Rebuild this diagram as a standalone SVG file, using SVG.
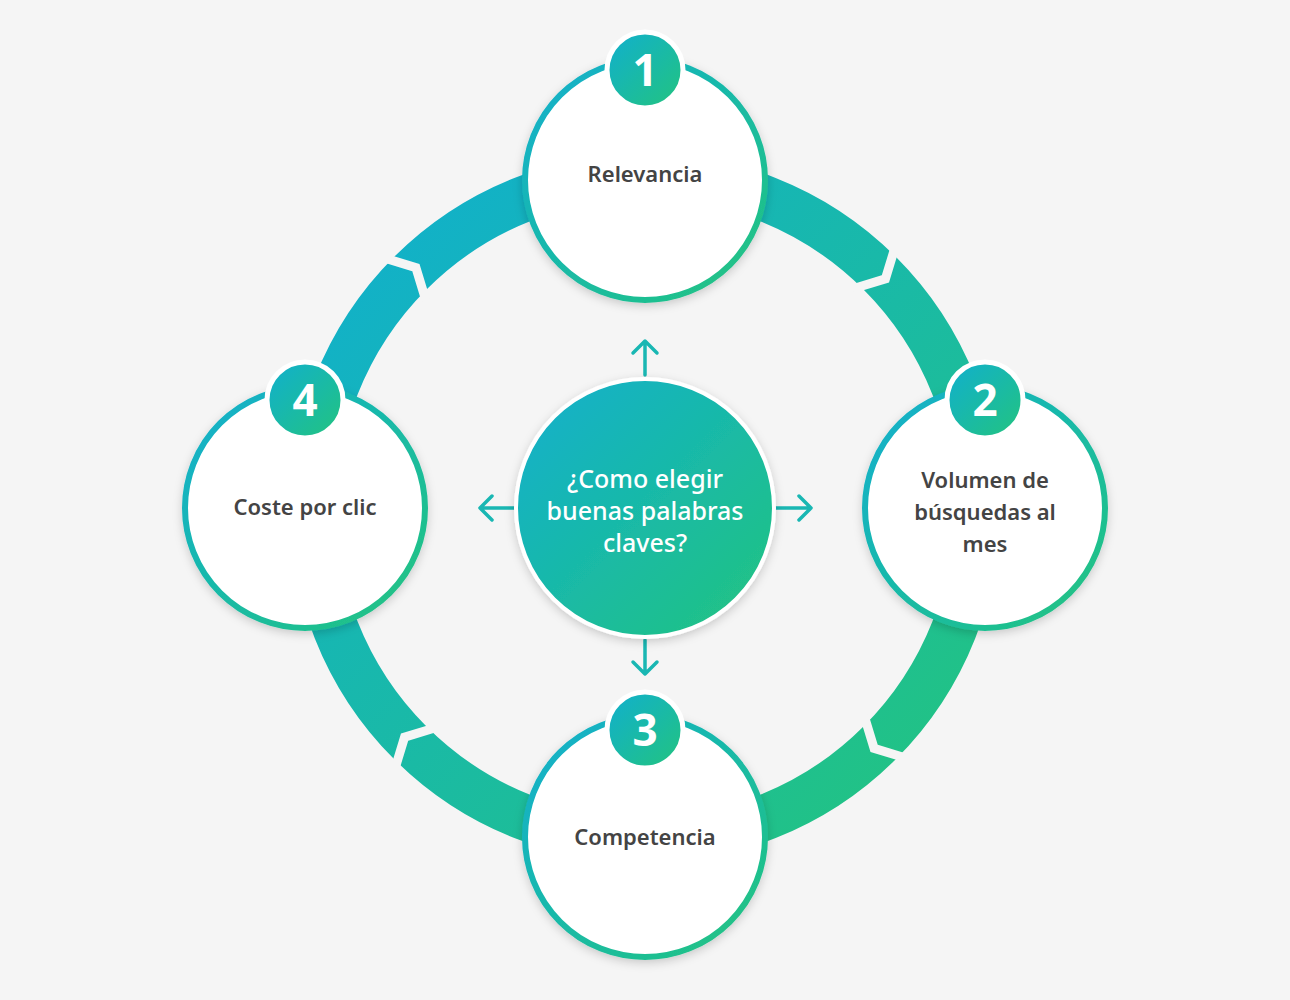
<svg xmlns="http://www.w3.org/2000/svg" width="1290" height="1000" viewBox="0 0 1290 1000">
<defs>
<linearGradient id="ring" gradientUnits="userSpaceOnUse" x1="330" y1="180" x2="960" y2="840"><stop offset="0" stop-color="#10afcf"/><stop offset="1" stop-color="#23c47e"/></linearGradient>
<linearGradient id="g" x1="0" y1="0" x2="1" y2="1"><stop offset="0" stop-color="#10afcf"/><stop offset="1" stop-color="#23c47e"/></linearGradient>
<filter id="sh" x="-20%" y="-20%" width="140%" height="140%"><feDropShadow dx="0" dy="3" stdDeviation="5" flood-color="#000" flood-opacity="0.18"/></filter>
</defs>
<style>
.node{fill:#fff;stroke:url(#g);stroke-width:6}
.badge{fill:url(#g);stroke:#fff;stroke-width:5}
.num{font-family:"Open Sans",sans-serif;font-weight:700;font-size:44px;fill:#fff;text-anchor:middle}
.lbl{font-family:"Noto Sans",sans-serif;font-weight:600;font-size:22px;fill:#444;text-anchor:middle}
.ctr{font-family:"Noto Sans",sans-serif;font-weight:500;font-size:25px;fill:#fff;text-anchor:middle}
.notch{fill:none;stroke:#f5f5f5;stroke-width:9}
.arr{fill:none;stroke:#19b7b3;stroke-width:3.5;stroke-linecap:round;stroke-linejoin:round}
</style>
<rect width="1290" height="1000" fill="#f5f5f5"/>
<g id="connectors">
<circle cx="645" cy="508" r="332" fill="none" stroke="url(#ring)" stroke-width="46"/>
<g transform="translate(645,508)">
<polyline class="notch" transform="rotate(45) translate(0,-332)" points="-8,-30 8,0 -8,30"/>
<polyline class="notch" transform="rotate(135) translate(0,-332)" points="-8,-30 8,0 -8,30"/>
<polyline class="notch" transform="rotate(225) translate(0,-332)" points="-8,-30 8,0 -8,30"/>
<polyline class="notch" transform="rotate(315) translate(0,-332)" points="-8,-30 8,0 -8,30"/>
</g>
<path class="arr" d="M645,375 V341 M633,353 L645,341 L657,353"/>
<path class="arr" d="M645,640 V674 M633,662 L645,674 L657,662"/>
<path class="arr" d="M515,508 H480 M492,496 L480,508 L492,520"/>
<path class="arr" d="M775,508 H811 M799,496 L811,508 L799,520"/>
</g>
<g id="center"><circle cx="645" cy="508" r="129" fill="url(#g)" stroke="#fff" stroke-width="4" filter="url(#sh)"/>
<text class="ctr" x="645" y="488">¿Como elegir</text><text class="ctr" x="645" y="520">buenas palabras</text><text class="ctr" x="645" y="552">claves?</text></g>
<g id="n1"><circle class="node" cx="645" cy="180" r="120" filter="url(#sh)"/><text class="lbl" x="645" y="182">Relevancia</text>
<circle class="badge" cx="645" cy="70" r="38"/><text class="num" x="645" y="86">1</text></g>
<g id="n2"><circle class="node" cx="985" cy="508" r="120" filter="url(#sh)"/><text class="lbl" x="985" y="488">Volumen de</text><text class="lbl" x="985" y="520">búsquedas al</text><text class="lbl" x="985" y="552">mes</text>
<circle class="badge" cx="985" cy="400" r="38"/><text class="num" x="985" y="416">2</text></g>
<g id="n3"><circle class="node" cx="645" cy="837" r="120" filter="url(#sh)"/><text class="lbl" x="645" y="845">Competencia</text>
<circle class="badge" cx="645" cy="730" r="38"/><text class="num" x="645" y="746">3</text></g>
<g id="n4"><circle class="node" cx="305" cy="508" r="120" filter="url(#sh)"/><text class="lbl" x="305" y="515">Coste por clic</text>
<circle class="badge" cx="305" cy="400" r="38"/><text class="num" x="305" y="416">4</text></g>
</svg>
